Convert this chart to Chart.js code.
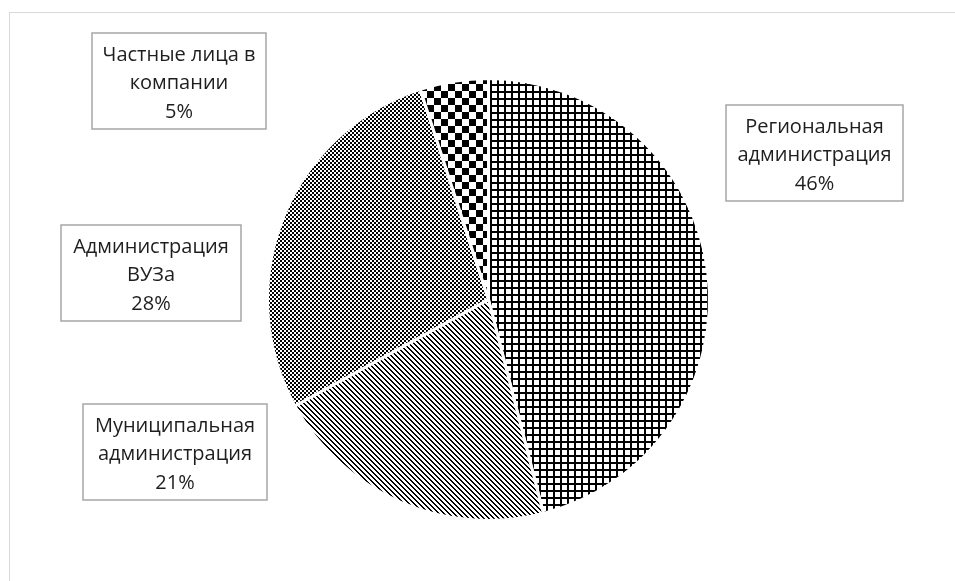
<!DOCTYPE html>
<html>
<head>
<meta charset="utf-8">
<script src="https://cdn.jsdelivr.net/npm/chart.js@4.4.0/dist/chart.umd.min.js"></script>
<style>
  html, body { margin: 0; padding: 0; background: #fff; }
  canvas { display: block; }
</style>
</head>
<body>
<canvas id="myChart" width="955" height="581"></canvas>
<script>
// data
const categories = [
  "Региональная\nадминистрация",
  "Муниципальная\nадминистрация",
  "Администрация\nВУЗа",
  "Частные лица в\nкомпании",
];
const shares = [46, 21, 28, 5];

// label boxes (left, top, width, height)
const boxes = [
  [726, 105, 177, 96],
  [83, 404, 184, 96],
  [61, 225, 180, 96],
  [92, 33, 174, 96],
];

function tile(size, fn) {
  const c = document.createElement("canvas");
  c.width = size; c.height = size;
  const g = c.getContext("2d");
  g.fillStyle = "#fff";
  g.fillRect(0, 0, size, size);
  g.fillStyle = "#000";
  for (let y = 0; y < size; y++)
    for (let x = 0; x < size; x++)
      if (fn(x, y)) g.fillRect(x, y, 1, 1);
  return c;
}

const ctx = document.getElementById("myChart").getContext("2d");

const patterns = [
  // big grid
  ctx.createPattern(tile(7, (x, y) => x < 2 || y < 2), "repeat"),
  // downward diagonal
  ctx.createPattern(tile(5, (x, y) => (((x - y) % 5) + 5) % 5 < 2), "repeat"),
  // small checker
  ctx.createPattern(tile(4, (x, y) => ((x >> 1) + (y >> 1)) % 2 === 0 || (x + y) % 4 === 1), "repeat"),
  // large checker
  ctx.createPattern(tile(14, (x, y) => (Math.floor(x / 7) + Math.floor(y / 7)) % 2 === 0), "repeat"),
];

const framePlugin = {
  id: "frame",
  beforeDraw(chart) {
    const c = chart.ctx;
    c.save();
    c.strokeStyle = "#d9d9d9";
    c.lineWidth = 1;
    c.strokeRect(9.5, 12.5, 1200, 1200);
    c.restore();
  },
};

const labelPlugin = {
  id: "boxLabels",
  afterDraw(chart) {
    const c = chart.ctx;
    c.save();
    c.font = "20px 'Open Sans', sans-serif";
    c.textAlign = "center";
    c.textBaseline = "middle";
    categories.forEach((name, i) => {
      const [bx, by, bw, bh] = boxes[i];
      c.fillStyle = "#fff";
      c.fillRect(bx, by, bw, bh);
      c.strokeStyle = "#a6a6a6";
      c.lineWidth = 1.5;
      c.strokeRect(bx, by, bw, bh);
      const lines = name.split("\n").concat(shares[i] + "%");
      c.fillStyle = "#1e1e1e";
      lines.forEach((t, k) => {
        c.fillText(t, bx + bw / 2, by + 22 + k * 28.5);
      });
    });
    c.restore();
  },
};

new Chart(ctx, {
  type: "pie",
  data: {
    labels: categories,
    datasets: [
      {
        data: shares,
        backgroundColor: patterns,
        borderColor: "#fff",
        borderWidth: 3,
      },
    ],
  },
  options: {
    responsive: false,
    animation: false,
    layout: {
      padding: { left: 266, right: 244, top: 77, bottom: 59 },
    },
    plugins: {
      legend: { display: false },
      tooltip: { enabled: false },
    },
  },
  plugins: [framePlugin, labelPlugin],
});
</script>
</body>
</html>
